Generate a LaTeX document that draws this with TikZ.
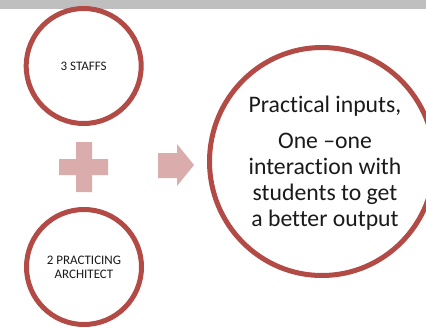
\documentclass[tikz,border=0pt]{standalone}
\usepackage{fontspec}
\setmainfont{Carlito}[Ligatures={NoCommon,NoContextual}]
\usetikzlibrary{shapes.geometric}
\definecolor{ringred}{RGB}{178,74,70}
\definecolor{softpink}{RGB}{219,172,172}
\definecolor{topgray}{RGB}{191,191,191}
\definecolor{inktext}{RGB}{26,26,26}
\tikzset{
  ring/.style={circle, draw=ringred, line width=5pt, fill=white, minimum size=115pt, inner sep=0pt, align=center, text=inktext, font=\fontsize{13}{14.3}\selectfont},
  bigring/.style={ellipse, draw=ringred, line width=5pt, fill=white, minimum width=225pt, minimum height=228pt, inner sep=0pt},
  bigtxt/.style={align=center, text=inktext, inner sep=0pt, font=\fontsize{23.7}{25.8}\selectfont},
  shapefill/.style={fill=softpink, draw=none}
}
\begin{document}
\begin{tikzpicture}[x=1pt, y=-1pt]
\useasboundingbox (0,0) rectangle (426,327);
\clip (0,0) rectangle (426,327);
\fill[topgray] (0,0) rectangle (426,9);
\node[ring] (staffs) at (83.7,66) {3 STAFFS};
\node[ring] (arch) at (84,267) {2 PRACTICING\\ARCHITECT};
\node[bigring] (big) at (322,161.5) {};
\node[bigtxt] (bigtext) at (325,163) {Practical inputs,\\[10.9pt]One –one\\interaction with\\students to get\\a better output};
% plus sign
\fill[shapefill] (76,142) -- (92,142) -- (92,159) -- (108,159) -- (108,175) -- (92,175) -- (92,192) -- (76,192) -- (76,175) -- (59,175) -- (59,159) -- (76,159) -- cycle;
% block arrow
\fill[shapefill] (158,153) -- (177,153) -- (177,144) -- (194,165) -- (177,186) -- (177,178) -- (158,178) -- cycle;
\end{tikzpicture}
\end{document}
